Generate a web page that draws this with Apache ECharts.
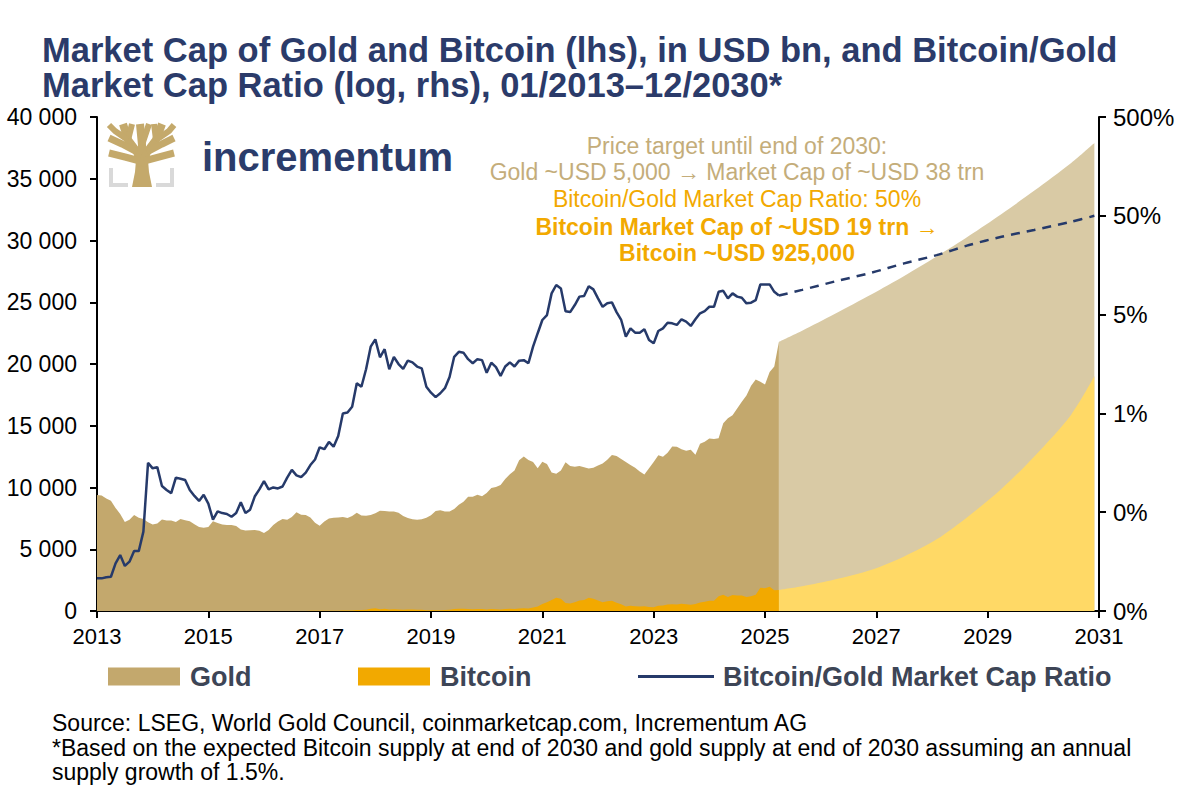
<!DOCTYPE html>
<html><head><meta charset="utf-8">
<script src="https://cdn.jsdelivr.net/npm/echarts@6/dist/echarts.min.js"></script>
<style>html,body{margin:0;padding:0;background:#fff}#c{width:1200px;height:808px}</style>
</head><body><div id="c"></div>
<script>
// ---------- DATA ----------
const startYear = 2013; // monthly history starts 01/2013
const xTickYears = [2013, 2015, 2017, 2019, 2021, 2023, 2025, 2027, 2029, 2031];
const leftTickLabels = ['0', '5 000', '10 000', '15 000', '20 000', '25 000', '30 000', '35 000', '40 000'];
const rightTickLabels = ['0%', '0%', '1%', '5%', '50%', '500%'];

// Gold market cap, USD bn, monthly 01/2013 - 04/2025
const goldHist = [
  9400, 9360, 9100, 8920, 8350, 7850, 7200, 7380, 7780, 7550, 7440, 7180,
  7000, 7080, 7400, 7320, 7320, 7210, 7440, 7350, 7260, 7020, 6800, 6750,
  6800, 7260, 7130, 7000, 6970, 6970, 6890, 6600, 6520, 6530, 6550, 6500,
  6320, 6550, 6960, 7240, 7450, 7380, 7620, 7990, 7800, 7780, 7580, 7140,
  6910, 7250, 7480, 7560, 7580, 7610, 7530, 7700, 7960, 7730, 7720, 7770,
  7920, 8110, 8100, 8050, 8050, 7950, 7700, 7530, 7420, 7380, 7430, 7550,
  7750, 8100, 8150, 8050, 8050, 8250, 8600, 8850, 9250, 9250, 9420, 9300,
  9550, 9950, 10040, 10200, 10680, 11080, 11380, 12200, 12520, 12220, 12060, 11550,
  12080, 11900, 11210, 11110, 11380, 12050, 11750, 11690, 11750, 11630, 11530, 11600,
  11780, 11950, 12250, 12640, 12560, 12310, 12060, 11830, 11590, 11290, 11050, 11550,
  12060, 12620, 12500, 12820, 13320, 13300, 13100, 12970, 13050, 12650, 13540, 13710,
  13970, 13930, 13990, 15210, 15610, 15850, 16400, 16950, 17450, 18230, 18750, 18560,
  18330, 19350, 19800, 21800
];
// Bitcoin market cap, USD bn, monthly 01/2013 - 04/2025
const bitcoinHist = [
  1.0, 1.0, 1.0, 1.0, 1.3, 1.4, 1.0, 1.2, 1.6, 1.5, 2.4, 11,
  9.7, 10, 6.8, 6.1, 5.7, 8.1, 8.1, 7.8, 6.1, 5.1, 4.4, 5.1,
  4.1, 3.1, 3.6, 3.4, 3.3, 3.1, 3.4, 4.2, 3.2, 3.5, 4.7, 5.5,
  6.5, 5.6, 6.2, 6.3, 6.8, 8.3, 10, 9.4, 8.8, 9.6, 11, 12,
  16, 16, 19, 17, 22, 38, 38, 45, 80, 72, 108, 184,
  223, 150, 181, 113, 150, 126, 109, 129, 122, 110, 106, 70,
  63, 59, 65, 72, 94, 154, 181, 182, 164, 149, 167, 161,
  123, 162, 148, 122, 159, 182, 170, 210, 216, 197, 286, 374,
  560, 700, 900, 1080, 1000, 640, 600, 700, 850, 900, 1080, 1000,
  860, 717, 796, 840, 666, 543, 360, 429, 380, 370, 392, 320,
  309, 430, 454, 531, 543, 523, 587, 550, 501, 567, 697, 744,
  838, 836, 1189, 1323, 1140, 1300, 1246, 1254, 1134, 1203, 1313, 1875,
  1851, 1954, 1683, 1700
];
// Bitcoin/Gold market cap ratio, %, monthly 01/2013 - 04/2025
const ratioHist = [
  0.0107, 0.0107, 0.0110, 0.0111, 0.0152, 0.0184, 0.0143, 0.0158, 0.0202, 0.0202, 0.0318, 0.158,
  0.139, 0.143, 0.092, 0.084, 0.078, 0.112, 0.109, 0.106, 0.084, 0.073, 0.065, 0.075,
  0.061, 0.042, 0.051, 0.049, 0.048, 0.045, 0.049, 0.063, 0.049, 0.053, 0.072, 0.085,
  0.103, 0.085, 0.089, 0.087, 0.091, 0.112, 0.134, 0.118, 0.113, 0.126, 0.150, 0.171,
  0.227, 0.217, 0.257, 0.230, 0.295, 0.50, 0.51, 0.585, 1.01, 0.93, 1.40, 2.37,
  2.81, 1.85, 2.23, 1.40, 1.86, 1.58, 1.41, 1.71, 1.64, 1.49, 1.43, 0.93,
  0.81, 0.73, 0.80, 0.90, 1.17, 1.87, 2.10, 2.06, 1.77, 1.61, 1.77, 1.73,
  1.29, 1.63, 1.47, 1.20, 1.49, 1.64, 1.49, 1.71, 1.73, 1.61, 2.37, 3.24,
  4.41, 4.95, 8.2, 9.97, 9.2, 5.4, 5.3, 6.25, 7.6, 7.7, 9.7, 9.0,
  7.3, 6.0, 6.5, 6.65, 5.3, 4.41, 2.99, 3.63, 3.28, 3.28, 3.55, 2.77,
  2.56, 3.41, 3.63, 4.14, 4.08, 3.93, 4.48, 4.24, 3.84, 4.48, 5.15, 5.43,
  6.0, 6.0, 8.5, 8.7, 7.3, 8.2, 7.6, 7.4, 6.5, 6.6, 7.0, 10.1,
  10.1, 10.1, 8.5, 7.8
];
// Projection 04/2025 - 12/2030
const forecastMonths = ['2025-04', '2025-09', '2026-04', '2026-12', '2027-07', '2028-02', '2028-09', '2029-04', '2029-11', '2030-07', '2030-12'];
const goldForecast = [21800, 22700, 24050, 25650, 27130, 28700, 30380, 32150, 34020, 36280, 37900];
const bitcoinForecast = [1700, 2000, 2550, 3350, 4420, 5800, 7720, 9900, 12500, 15900, 19000];
const ratioForecast = [7.8, 8.9, 10.8, 13.3, 16.5, 20.0, 25.3, 30.7, 35.9, 43.6, 50.0];

// ---------- BUILD ----------
const monthToYear = i => startYear + i / 12;
const ymToYear = s => { const p = s.split('-'); return +p[0] + (+p[1] - 1) / 12; };
const histPairs = arr => arr.map((v, i) => [monthToYear(i), v]);
const fcPairs = arr => arr.map((v, i) => [ymToYear(forecastMonths[i]), v]);

const FONT = "'Liberation Sans', Arial, sans-serif";
const NAVY = '#2B3B6A';
const TAN = '#C4AD7A';
const ORANGE = '#F2A900';
const LOGO_GOLD = '#C4A96B';

const areaSeries = (name, data, color, z, smooth) => ({
  name, type: 'line', data, showSymbol: false, symbol: 'none', smooth: smooth || false,
  lineStyle: { width: 0 }, itemStyle: { color }, areaStyle: { color, opacity: 1 },
  emphasis: { disabled: true }, z, silent: true
});
const branch = (pts, w) => ({ type: 'polyline', shape: { points: pts }, style: { stroke: LOGO_GOLD, lineWidth: w, fill: null, lineCap: 'butt', lineJoin: 'round' } });
const note = (y, text, color, bold) => ({ type: 'text', x: 737, y,
  style: { text, font: (bold ? 'bold ' : '') + "23px 'Liberation Sans', Arial, sans-serif", fill: color, textAlign: 'center', textVerticalAlign: 'middle' } });

const chart = echarts.init(document.getElementById('c'), null, { renderer: 'svg' });
chart.setOption({
  animation: false,
  backgroundColor: '#fff',
  textStyle: { fontFamily: FONT },
  title: [
    { text: 'Market Cap of Gold and Bitcoin (lhs), in USD bn, and Bitcoin/Gold\nMarket Cap Ratio (log, rhs), 01/2013\u201312/2030*',
      left: 37, top: 27, textStyle: { fontFamily: FONT, fontSize: 34.5, fontWeight: 'bold', color: NAVY, lineHeight: 35 } },
    { text: 'Source: LSEG, World Gold Council, coinmarketcap.com, Incrementum AG\n*Based on the expected Bitcoin supply at end of 2030 and gold supply at end of 2030 assuming an annual\nsupply growth of 1.5%.',
      left: 47, top: 706, textStyle: { fontFamily: FONT, fontSize: 23, fontWeight: 'normal', color: '#000', lineHeight: 24.5 } }
  ],
  grid: { left: 97, right: 101, top: 117, bottom: 197, containLabel: false },
  legend: [
    { data: ['Gold'], left: 103, top: 658, icon: 'rect', itemWidth: 72, itemHeight: 18,
      textStyle: { fontFamily: FONT, fontSize: 27, fontWeight: 'bold', color: '#3D4556', padding: [0, 0, 0, 5] }, selectedMode: false },
    { data: ['Bitcoin'], left: 353, top: 658, icon: 'rect', itemWidth: 72, itemHeight: 18,
      textStyle: { fontFamily: FONT, fontSize: 27, fontWeight: 'bold', color: '#3D4556', padding: [0, 0, 0, 5] }, selectedMode: false },
    { data: ['Bitcoin/Gold Market Cap Ratio'], left: 633, top: 658, icon: 'rect', itemWidth: 76, itemHeight: 3,
      textStyle: { fontFamily: FONT, fontSize: 27, fontWeight: 'bold', color: '#3D4556', padding: [0, 0, 0, 4] }, selectedMode: false }
  ],
  xAxis: {
    type: 'value', min: xTickYears[0], max: xTickYears[xTickYears.length - 1], interval: 2,
    axisLine: { show: true, onZero: false, lineStyle: { color: '#000', width: 2 } },
    axisTick: { show: true, inside: false, length: 7, lineStyle: { color: '#000', width: 2 } },
    axisLabel: { fontFamily: FONT, fontSize: 22, color: '#000', margin: 14,
      formatter: (v) => { const k = xTickYears.indexOf(Math.round(v)); return k >= 0 ? String(xTickYears[k]) : ''; } },
    splitLine: { show: false }
  },
  yAxis: [
    { type: 'value', min: 0, max: 40000, interval: 5000, position: 'left',
      axisLine: { show: true, lineStyle: { color: '#000', width: 2 } },
      axisTick: { show: true, inside: false, length: 7, lineStyle: { color: '#000', width: 2 } },
      axisLabel: { fontFamily: FONT, fontSize: 23, color: '#000', margin: 20,
        formatter: (v) => leftTickLabels[Math.round(v / 5000)] },
      splitLine: { show: false } },
    { type: 'log', logBase: 10, min: 0.005, max: 500, interval: 1, position: 'right',
      axisLine: { show: true, lineStyle: { color: '#000', width: 2 } },
      axisTick: { show: true, inside: false, length: 7, lineStyle: { color: '#000', width: 2 } },
      axisLabel: { fontFamily: FONT, fontSize: 24, color: '#000', margin: 14,
        formatter: (v, i) => rightTickLabels[i] !== undefined ? rightTickLabels[i] : '' },
      splitLine: { show: false } }
  ],
  series: [
    areaSeries('Gold', histPairs(goldHist), '#C3A86D', 1),
    areaSeries('Gold projection', fcPairs(goldForecast), '#D9CAA5', 1, 0.3),
    areaSeries('Bitcoin', histPairs(bitcoinHist), ORANGE, 2),
    areaSeries('Bitcoin projection', fcPairs(bitcoinForecast), '#FFD966', 2, 0.3),
    { name: 'Bitcoin/Gold Market Cap Ratio', type: 'line', yAxisIndex: 1, data: histPairs(ratioHist),
      showSymbol: false, symbol: 'none', itemStyle: { color: '#263A6A' },
      lineStyle: { color: '#263A6A', width: 2.5 }, z: 5, silent: true, emphasis: { disabled: true } },
    { name: 'Ratio projection', type: 'line', yAxisIndex: 1, data: fcPairs(ratioForecast),
      showSymbol: false, symbol: 'none', smooth: 0.3, itemStyle: { color: '#263A6A' },
      lineStyle: { color: '#263A6A', width: 2.5, type: [9, 7] }, z: 5, silent: true, emphasis: { disabled: true } }
  ],
  graphic: [
    // logo
    { type: 'group', silent: true, children: [
      { type: 'polygon', shape: { points: [[132, 187], [152, 187], [149, 172], [148, 160], [136, 160], [135, 172]] }, style: { fill: LOGO_GOLD } },
      branch([[142, 166], [137, 152], [128, 140], [123, 124]], 8),
      branch([[137, 152], [122, 144], [109, 138]], 7),
      branch([[140, 161], [125, 157], [109, 153]], 7),
      branch([[128, 140], [132, 124]], 6),
      branch([[128, 140], [115, 131], [109, 125]], 6),
      branch([[142, 166], [142, 145], [140, 124]], 8),
      branch([[142, 145], [149, 124]], 6),
      branch([[142, 166], [147, 152], [156, 140], [162, 124]], 8),
      branch([[147, 152], [162, 144], [174, 138]], 7),
      branch([[144, 161], [159, 157], [174, 153]], 7),
      branch([[156, 140], [154, 124]], 6),
      branch([[156, 140], [169, 131], [174, 125]], 6),
      { type: 'polyline', shape: { points: [[111, 168], [111, 185], [128, 185]] }, style: { stroke: '#D9D9D9', lineWidth: 4, fill: null } },
      { type: 'polyline', shape: { points: [[156, 185], [172, 185], [172, 168]] }, style: { stroke: '#D9D9D9', lineWidth: 4, fill: null } },
      { type: 'text', x: 202, y: 157, style: { text: 'incrementum', font: "bold 40px 'Liberation Sans', Arial, sans-serif", fill: '#2B3C6B', textVerticalAlign: 'middle' } }
    ]},
    // annotation
    { type: 'group', silent: true, children: [
      note(146, 'Price target until end of 2030:', TAN, false),
      note(172, 'Gold ~USD 5,000 \u2192 Market Cap of ~USD 38 trn', TAN, false),
      note(199, 'Bitcoin/Gold Market Cap Ratio: 50%', ORANGE, false),
      note(227, 'Bitcoin Market Cap of ~USD 19 trn \u2192', ORANGE, true),
      note(253, 'Bitcoin ~USD 925,000', ORANGE, true)
    ]}
  ]
});
</script></body></html>
